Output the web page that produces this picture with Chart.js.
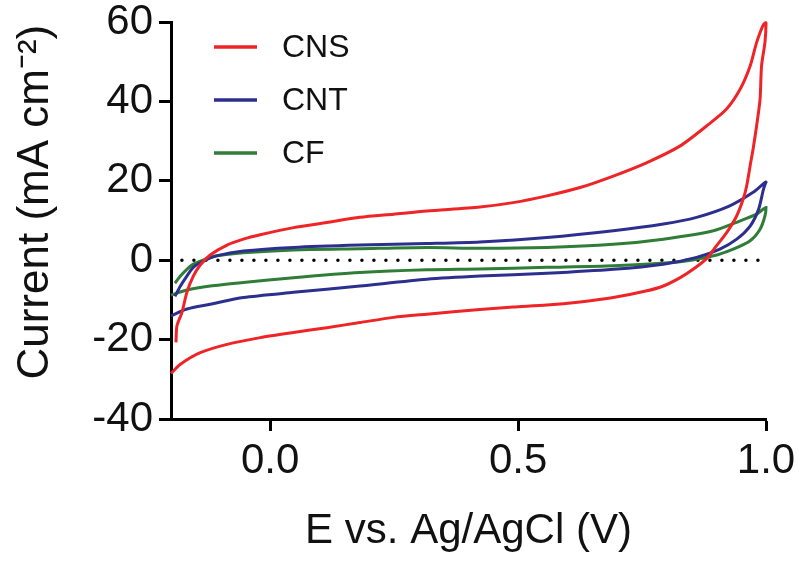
<!DOCTYPE html>
<html>
<head>
<meta charset="utf-8">
<script src="https://cdn.jsdelivr.net/npm/chart.js@4.4.1/dist/chart.umd.min.js"></script>
<style>
  html, body { margin: 0; padding: 0; background: #fff; }
  #wrap { width: 800px; height: 563px; }
</style>
</head>
<body>
<div id="wrap"><canvas id="c" width="800" height="563"></canvas></div>
<script>
// ---- data (E in V vs Ag/AgCl, current in mA cm^-2), forward then reverse scan ----
const seriesLabels = ['CNS', 'CNT', 'CF'];

const cnsE = [-0.19, -0.188, -0.178, -0.168, -0.155, -0.141, -0.121, -0.087, -0.054, -0.02, 0.047, 0.114, 0.181, 0.249, 0.316, 0.423, 0.49, 0.558, 0.625, 0.692, 0.76, 0.827, 0.88, 0.92, 0.948, 0.968, 0.981, 0.995, 1.0,
              0.998, 0.991, 0.988, 0.981, 0.974, 0.968, 0.961, 0.954, 0.941, 0.921, 0.9, 0.88, 0.853, 0.827, 0.793, 0.76, 0.692, 0.625, 0.558, 0.49, 0.423, 0.316, 0.249, 0.181, 0.114, 0.047, -0.02, -0.087, -0.141, -0.181, -0.2];
const cnsI = [-20.7, -16.5, -13.2, -8.1, -4.0, -1.2, 1.3, 3.8, 5.3, 6.4, 8.2, 9.5, 10.8, 11.6, 12.4, 13.4, 14.5, 16.2, 18.3, 21.2, 24.6, 28.8, 33.8, 38.0, 43.1, 48.9, 54.8, 59.4, 59.8,
              55.0, 48.9, 40.5, 33.8, 28.0, 23.8, 18.7, 15.4, 11.2, 7.0, 3.6, 0.4, -2.3, -4.4, -6.5, -7.7, -9.4, -10.5, -11.3, -11.8, -12.4, -13.6, -14.4, -15.7, -17.0, -18.2, -19.5, -21.2, -23.3, -26.2, -28.5];

const cntE = [-0.192, -0.181, -0.168, -0.155, -0.134, -0.108, -0.054, 0.047, 0.181, 0.316, 0.423, 0.558, 0.692, 0.793, 0.86, 0.927, 0.974, 1.0,
              0.995, 0.985, 0.968, 0.941, 0.907, 0.86, 0.793, 0.692, 0.558, 0.423, 0.316, 0.181, 0.047, -0.054, -0.121, -0.168, -0.2];
const cntI = [-9.1, -6.5, -4.0, -1.8, -0.2, 1.1, 2.3, 3.2, 3.8, 4.2, 4.6, 5.7, 7.4, 9.1, 10.8, 13.7, 17.1, 19.7,
              17.9, 12.8, 8.6, 5.3, 2.8, 0.7, -1.0, -2.3, -3.3, -4.0, -4.8, -6.5, -8.1, -9.4, -11.1, -12.3, -14.0];

const cfE = [-0.192, -0.181, -0.168, -0.155, -0.134, -0.108, -0.054, 0.047, 0.181, 0.316, 0.423, 0.558, 0.692, 0.793, 0.894, 0.948, 0.981, 1.0,
             0.998, 0.988, 0.968, 0.934, 0.894, 0.827, 0.692, 0.558, 0.423, 0.316, 0.181, 0.047, -0.054, -0.121, -0.168, -0.2];
const cfI = [-5.8, -4.0, -2.3, -1.0, 0.1, 1.1, 1.9, 2.6, 2.9, 3.2, 3.0, 3.2, 4.0, 5.3, 7.4, 9.9, 11.6, 13.3,
             11.2, 7.8, 4.9, 2.8, 1.1, -0.4, -1.4, -1.8, -2.2, -2.4, -3.1, -4.4, -5.6, -6.5, -7.5, -8.8];

const zeroE = [-0.178, 1.0];
const zeroI = [0, 0];

const xTicks = [0.0, 0.5, 1.0];
const yTicks = [-40, -20, 0, 20, 40, 60];

// ---- build ----
const pts = (xs, ys) => xs.map((x, i) => ({ x: x, y: ys[i] }));
const FONT = "'Liberation Sans', Arial, Helvetica, sans-serif";
const colors = ['#EE2427', '#2D2F8E', '#2F7D37'];

const legendPlugin = {
  id: 'cvLegend',
  afterDatasetsDraw(chart) {
    const ctx = chart.ctx;
    const a = chart.chartArea;
    ctx.save();
    ctx.font = '32px ' + FONT;
    ctx.textBaseline = 'middle';
    ctx.textAlign = 'left';
    for (let i = 0; i < seriesLabels.length; i++) {
      const ds = chart.data.datasets[i];
      const y = a.top + 25 + i * 53;
      ctx.strokeStyle = ds.borderColor;
      ctx.lineWidth = 3.5;
      ctx.beginPath();
      ctx.moveTo(a.left + 43, y);
      ctx.lineTo(a.left + 86, y);
      ctx.stroke();
      ctx.fillStyle = '#111';
      ctx.fillText(ds.label, a.left + 111, y + 1);
    }
    ctx.restore();
  }
};

const datasets = [
  { label: seriesLabels[0], data: pts(cnsE, cnsI), borderColor: colors[0] },
  { label: seriesLabels[1], data: pts(cntE, cntI), borderColor: colors[1] },
  { label: seriesLabels[2], data: pts(cfE, cfI), borderColor: colors[2] },
].map(d => Object.assign(d, {
  showLine: true, pointRadius: 0, borderWidth: 3, tension: 0.25, fill: false, clip: false
}));
datasets.push({
  label: 'zero', data: pts(zeroE, zeroI), showLine: true, pointRadius: 0,
  borderColor: '#000', borderWidth: 3.5, borderDash: [0, 12], borderCapStyle: 'round', clip: false
});

new Chart(document.getElementById('c'), {
  type: 'scatter',
  data: { datasets },
  plugins: [legendPlugin],
  options: {
    responsive: false,
    animation: false,
    events: [],
    layout: { padding: { top: 22, right: 34, left: 0, bottom: 0 } },
    plugins: { legend: { display: false }, tooltip: { enabled: false } },
    scales: {
      x: {
        type: 'linear', min: -0.2, max: 1.0,
        afterFit(s) { s.height = 144; s.paddingLeft = 0; s.paddingRight = 0; },
        afterBuildTicks(s) { s.ticks = xTicks.map(v => ({ value: v })); },
        grid: { display: true, drawOnChartArea: false, drawTicks: true, tickLength: 12, tickWidth: 3, tickColor: '#000' },
        border: { display: true, color: '#000', width: 3 },
        ticks: { color: '#111', padding: 9, font: { family: FONT, size: 42, lineHeight: 1 }, callback: v => v.toFixed(1), maxRotation: 0 },
        title: { display: true, text: 'E vs. Ag/AgCl (V)', color: '#111', font: { family: FONT, size: 42 }, padding: { top: 0, bottom: 6 } }
      },
      y: {
        type: 'linear', min: -40, max: 60,
        afterFit(s) { s.width = 171; s.paddingTop = 0; s.paddingBottom = 0; },
        afterBuildTicks(s) { s.ticks = yTicks.map(v => ({ value: v })); },
        grid: { display: true, drawOnChartArea: false, drawTicks: true, tickLength: 12, tickWidth: 3, tickColor: '#000' },
        border: { display: true, color: '#000', width: 3 },
        ticks: { color: '#111', padding: 6, font: { family: FONT, size: 42, lineHeight: 1 }, callback: v => String(v) },
        title: { display: true, text: '   Current (mA cm\u207B\u00B2)', color: '#111', font: { family: FONT, size: 44 }, padding: { top: 9, bottom: 0 } }
      }
    }
  }
});
</script>
</body>
</html>
